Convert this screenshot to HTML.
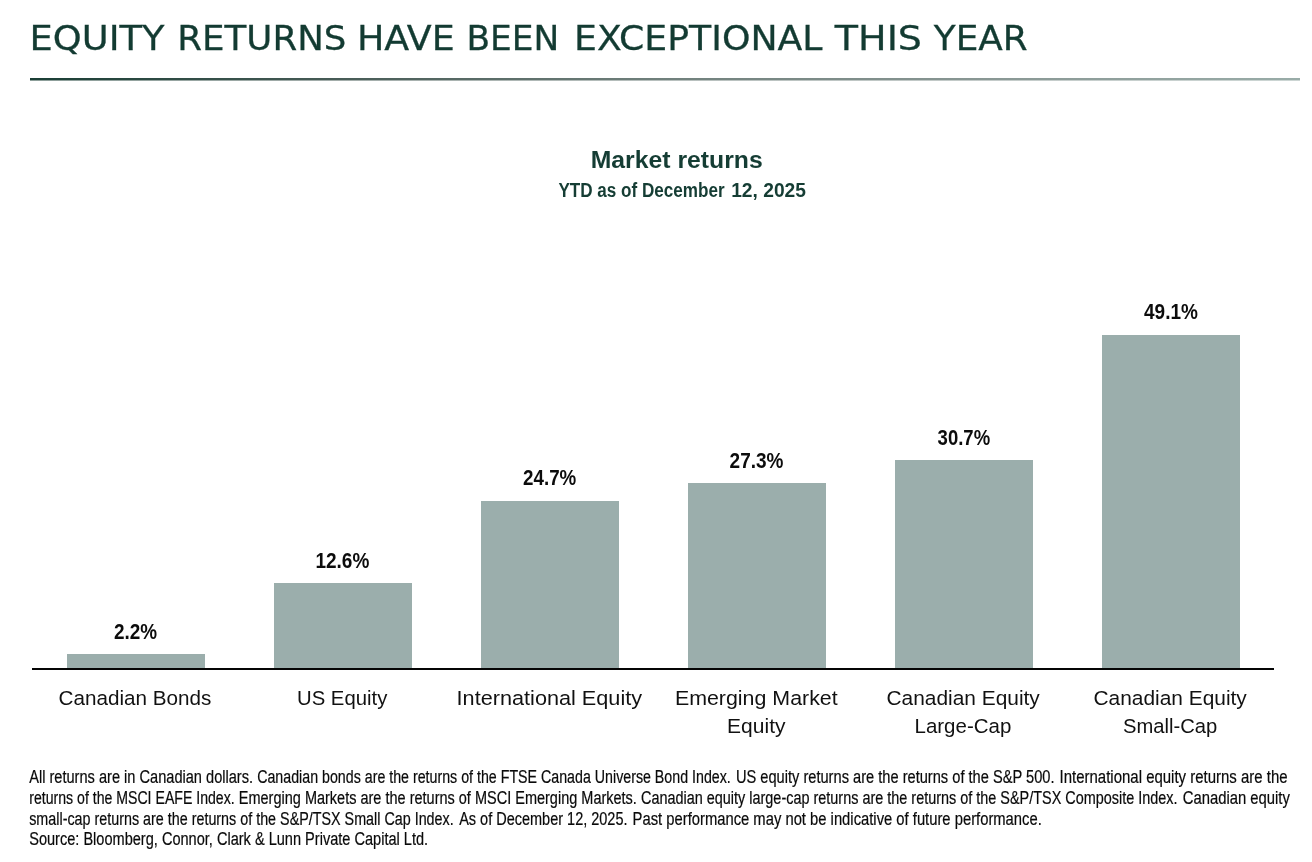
<!DOCTYPE html>
<html lang="en">
<head>
<meta charset="utf-8">
<title>Equity returns have been exceptional this year</title>
<style>
html,body{margin:0;padding:0;background:#fff;}
body{width:1312px;height:862px;overflow:hidden;position:relative;font-family:"Liberation Sans",sans-serif;}
svg{position:absolute;left:0;top:0;display:block;}
.title{font-family:"DejaVu Sans","Liberation Sans",sans-serif;font-size:34px;fill:#133b32;stroke:#133b32;stroke-width:0.3px;}
.ct{font-family:"Liberation Sans",sans-serif;font-weight:700;fill:#153d34;}
.val{font-family:"Liberation Sans",sans-serif;font-weight:700;font-size:21.5px;fill:#0c0c0c;}
.cat{font-family:"Liberation Sans",sans-serif;font-size:20.5px;fill:#111;}
.foot{font-family:"Liberation Sans",sans-serif;font-size:17.5px;fill:#0a0a0a;stroke:#0a0a0a;stroke-width:0.2px;}
.bar{fill:#9baeac;}
</style>
</head>
<body>
<svg width="1312" height="862" viewBox="0 0 1312 862">
<defs>
<linearGradient id="rule" x1="0" y1="0" x2="1" y2="0">
<stop offset="0" stop-color="#1a3e35"/>
<stop offset="0.245" stop-color="#485c57"/>
<stop offset="0.496" stop-color="#70807c"/>
<stop offset="0.752" stop-color="#899794"/>
<stop offset="1" stop-color="#99aca8"/>
</linearGradient>
</defs>
<g id="header">
<text class="title" y="49.5"><tspan x="29.6" textLength="134.8" lengthAdjust="spacingAndGlyphs">EQUITY</tspan> <tspan x="177.3" textLength="169.1" lengthAdjust="spacingAndGlyphs">RETURNS</tspan> <tspan x="356.9" textLength="97.8" lengthAdjust="spacingAndGlyphs">HAVE</tspan> <tspan x="466.4" textLength="92.8" lengthAdjust="spacingAndGlyphs">BEEN</tspan> <tspan x="574.0" textLength="248.5" lengthAdjust="spacingAndGlyphs">EXCEPTIONAL</tspan> <tspan x="834.8" textLength="87.2" lengthAdjust="spacingAndGlyphs">THIS</tspan> <tspan x="933.8" textLength="93.8" lengthAdjust="spacingAndGlyphs">YEAR</tspan></text>
<rect x="30" y="78" width="1270" height="2.5" fill="url(#rule)"/>
</g>
<g id="chart">
<text class="ct" font-size="23" x="590.7" y="168.1" textLength="172" lengthAdjust="spacingAndGlyphs">Market returns</text>
<text class="ct" font-size="19.5" y="197.3"><tspan x="558.4" textLength="166.3" lengthAdjust="spacingAndGlyphs">YTD as of December</tspan> <tspan x="731.2" textLength="74.8" lengthAdjust="spacingAndGlyphs">12, 2025</tspan></text>
<rect class="bar" x="67" y="654" width="138" height="14"/>
<rect class="bar" x="274" y="583" width="138" height="85"/>
<rect class="bar" x="481" y="501" width="138" height="167"/>
<rect class="bar" x="688" y="483" width="138" height="185"/>
<rect class="bar" x="895" y="460" width="138" height="208"/>
<rect class="bar" x="1102" y="335" width="138" height="333"/>
<text class="val" x="113.9" y="638.8" textLength="43.1" lengthAdjust="spacingAndGlyphs">2.2%</text>
<text class="val" x="315.4" y="567.8" textLength="53.9" lengthAdjust="spacingAndGlyphs">12.6%</text>
<text class="val" x="523.1" y="485.3" textLength="53.2" lengthAdjust="spacingAndGlyphs">24.7%</text>
<text class="val" x="729.6" y="467.9" textLength="53.8" lengthAdjust="spacingAndGlyphs">27.3%</text>
<text class="val" x="937.6" y="444.8" textLength="52.5" lengthAdjust="spacingAndGlyphs">30.7%</text>
<text class="val" x="1144.0" y="319.3" textLength="53.9" lengthAdjust="spacingAndGlyphs">49.1%</text>
<rect x="32" y="668" width="1242" height="2" fill="#050505"/>
<text class="cat"><tspan x="58.5" y="704.7" textLength="152.8" lengthAdjust="spacingAndGlyphs">Canadian Bonds</tspan></text>
<text class="cat"><tspan x="297.0" y="704.7" textLength="90.3" lengthAdjust="spacingAndGlyphs">US Equity</tspan></text>
<text class="cat"><tspan x="456.6" y="704.7" textLength="185.5" lengthAdjust="spacingAndGlyphs">International Equity</tspan></text>
<text class="cat"><tspan x="674.9" y="704.7" textLength="162.8" lengthAdjust="spacingAndGlyphs">Emerging Market</tspan> <tspan x="727.1" y="733.1" textLength="58.4" lengthAdjust="spacingAndGlyphs">Equity</tspan></text>
<text class="cat"><tspan x="886.5" y="704.7" textLength="153.3" lengthAdjust="spacingAndGlyphs">Canadian Equity</tspan> <tspan x="914.5" y="733.1" textLength="96.8" lengthAdjust="spacingAndGlyphs">Large-Cap</tspan></text>
<text class="cat"><tspan x="1093.5" y="704.7" textLength="153.3" lengthAdjust="spacingAndGlyphs">Canadian Equity</tspan> <tspan x="1123.0" y="733.1" textLength="94.3" lengthAdjust="spacingAndGlyphs">Small-Cap</tspan></text>
</g>
<g id="footnote">
<text class="foot" y="783.0"><tspan x="29.2" textLength="223.9" lengthAdjust="spacingAndGlyphs">All returns are in Canadian dollars.</tspan> <tspan x="257.2" textLength="473.6" lengthAdjust="spacingAndGlyphs">Canadian bonds are the returns of the FTSE Canada Universe Bond Index.</tspan> <tspan x="735.9" textLength="318.6" lengthAdjust="spacingAndGlyphs">US equity returns are the returns of the S&amp;P 500.</tspan> <tspan x="1059.6" textLength="228.0" lengthAdjust="spacingAndGlyphs">International equity returns are the</tspan></text>
<text class="foot" y="803.8"><tspan x="29.2" textLength="205.5" lengthAdjust="spacingAndGlyphs">returns of the MSCI EAFE Index.</tspan> <tspan x="238.8" textLength="398.1" lengthAdjust="spacingAndGlyphs">Emerging Markets are the returns of MSCI Emerging Markets.</tspan> <tspan x="641.0" textLength="536.6" lengthAdjust="spacingAndGlyphs">Canadian equity large-cap returns are the returns of the S&amp;P/TSX Composite Index.</tspan> <tspan x="1182.7" textLength="107.2" lengthAdjust="spacingAndGlyphs">Canadian equity</tspan></text>
<text class="foot" y="824.6"><tspan x="29.2" textLength="424.5" lengthAdjust="spacingAndGlyphs">small-cap returns are the returns of the S&amp;P/TSX Small Cap Index.</tspan> <tspan x="459.2" textLength="168.3" lengthAdjust="spacingAndGlyphs">As of December 12, 2025.</tspan> <tspan x="632.6" textLength="409.2" lengthAdjust="spacingAndGlyphs">Past performance may not be indicative of future performance.</tspan></text>
<text class="foot" y="845.4"><tspan x="29.2" textLength="398.9" lengthAdjust="spacingAndGlyphs">Source: Bloomberg, Connor, Clark &amp; Lunn Private Capital Ltd.</tspan></text>
</g>
</svg>
</body>
</html>
